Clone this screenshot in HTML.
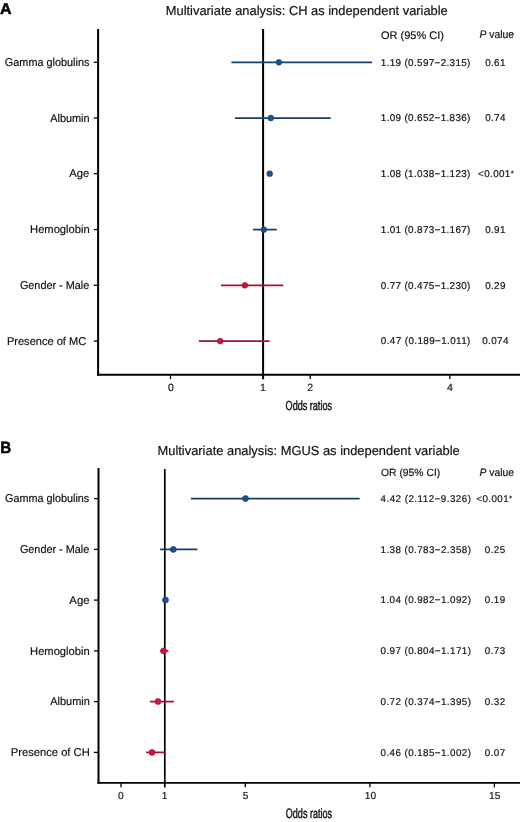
<!DOCTYPE html>
<html><head><meta charset="utf-8"><style>
html,body{margin:0;padding:0;background:#fff;}
body{width:520px;height:822px;overflow:hidden;}
svg{display:block;font-family:"Liberation Sans", sans-serif;text-rendering:geometricPrecision;will-change:transform;}
</style></head><body>
<svg width="520" height="822" viewBox="0 0 520 822">
<rect width="520" height="822" fill="#fff"/>
<text x="0.0" y="13.7" font-size="15.6" text-anchor="start" font-weight="bold" textLength="11.6" lengthAdjust="spacingAndGlyphs" stroke="#000" stroke-width="0.45" fill="#000">A</text>
<text x="165.8" y="15.2" font-size="13" text-anchor="start" textLength="282" lengthAdjust="spacingAndGlyphs" stroke="#111" stroke-width="0.18" fill="#111">Multivariate analysis: CH as independent variable</text>
<text x="381" y="38.8" font-size="11" text-anchor="start" textLength="63" lengthAdjust="spacingAndGlyphs" stroke="#111" stroke-width="0.18" fill="#111">OR (95% CI)</text>
<text x="479.5" y="38.4" font-size="11" fill="#111" stroke="#111" stroke-width="0.18" textLength="34.6" lengthAdjust="spacingAndGlyphs"><tspan font-style="italic">P</tspan> value</text>
<line x1="98.1" y1="29.0" x2="98.1" y2="375.8" stroke="#000" stroke-width="2" stroke-linecap="butt"/>
<line x1="97.1" y1="374.8" x2="520" y2="374.8" stroke="#000" stroke-width="2" stroke-linecap="butt"/>
<line x1="263.1" y1="29.0" x2="263.1" y2="379.3" stroke="#000" stroke-width="2" stroke-linecap="butt"/>
<line x1="170.5" y1="374.8" x2="170.5" y2="379.1" stroke="#000" stroke-width="1.3" stroke-linecap="butt"/>
<line x1="310.2" y1="374.8" x2="310.2" y2="379.1" stroke="#000" stroke-width="1.3" stroke-linecap="butt"/>
<line x1="449.9" y1="374.8" x2="449.9" y2="379.1" stroke="#000" stroke-width="1.3" stroke-linecap="butt"/>
<text x="170.8" y="391.3" font-size="10.5" text-anchor="middle" stroke="#111" stroke-width="0.18" fill="#111">0</text>
<text x="263.0" y="391.3" font-size="10.5" text-anchor="middle" stroke="#111" stroke-width="0.18" fill="#111">1</text>
<text x="310.2" y="391.3" font-size="10.5" text-anchor="middle" stroke="#111" stroke-width="0.18" fill="#111">2</text>
<text x="449.8" y="391.3" font-size="10.5" text-anchor="middle" stroke="#111" stroke-width="0.18" fill="#111">4</text>
<text x="285.6" y="410" font-size="13.1" text-anchor="start" textLength="46.4" lengthAdjust="spacingAndGlyphs" stroke="#111" stroke-width="0.45" fill="#111">Odds ratios</text>
<line x1="93.8" y1="62.3" x2="98.1" y2="62.3" stroke="#000" stroke-width="1.3" stroke-linecap="butt"/>
<text id="LA0" x="4.87" y="66.00" font-size="11.3" textLength="84.49" lengthAdjust="spacingAndGlyphs" stroke="#111" stroke-width="0.18" fill="#111">Gamma globulins</text>
<line x1="231.4" y1="62.3" x2="372.0" y2="62.3" stroke="#163f6a" stroke-width="1.75" stroke-linecap="butt"/>
<circle cx="278.9" cy="62.3" r="2.9" fill="#1b5189" stroke="#163f6a" stroke-width="0.6"/>
<text x="380.8" y="65.6" font-size="9.9" text-anchor="start" textLength="89.6" lengthAdjust="spacing" stroke="#111" stroke-width="0.18" fill="#111">1.19 (0.597−2.315)</text>
<text x="495.5" y="65.6" font-size="9.9" text-anchor="middle" letter-spacing="0.35" stroke="#111" stroke-width="0.18" fill="#111">0.61</text>
<line x1="93.8" y1="118.0" x2="98.1" y2="118.0" stroke="#000" stroke-width="1.3" stroke-linecap="butt"/>
<text id="LA1" x="50.21" y="121.70" font-size="11.3" textLength="39.39" lengthAdjust="spacingAndGlyphs" stroke="#111" stroke-width="0.18" fill="#111">Albumin</text>
<line x1="234.9" y1="118.0" x2="330.8" y2="118.0" stroke="#163f6a" stroke-width="1.75" stroke-linecap="butt"/>
<circle cx="270.8" cy="118.0" r="2.9" fill="#1b5189" stroke="#163f6a" stroke-width="0.6"/>
<text x="380.8" y="121.3" font-size="9.9" text-anchor="start" textLength="89.6" lengthAdjust="spacing" stroke="#111" stroke-width="0.18" fill="#111">1.09 (0.652−1.836)</text>
<text x="495.5" y="121.3" font-size="9.9" text-anchor="middle" letter-spacing="0.35" stroke="#111" stroke-width="0.18" fill="#111">0.74</text>
<line x1="93.8" y1="173.7" x2="98.1" y2="173.7" stroke="#000" stroke-width="1.3" stroke-linecap="butt"/>
<text id="LA2" x="69.30" y="177.40" font-size="11.3" textLength="19.93" lengthAdjust="spacingAndGlyphs" stroke="#111" stroke-width="0.18" fill="#111">Age</text>
<circle cx="269.7" cy="173.7" r="2.9" fill="#1b5189" stroke="#163f6a" stroke-width="0.6"/>
<text x="380.8" y="177.0" font-size="9.9" text-anchor="start" textLength="89.6" lengthAdjust="spacing" stroke="#111" stroke-width="0.18" fill="#111">1.08 (1.038−1.123)</text>
<text x="478.1" y="177.0" font-size="9.9" text-anchor="start" letter-spacing="0.35" stroke="#111" stroke-width="0.18" fill="#111">&lt;0.001<tspan font-size="7.5" dy="-0.6">*</tspan></text>
<line x1="93.8" y1="229.6" x2="98.1" y2="229.6" stroke="#000" stroke-width="1.3" stroke-linecap="butt"/>
<text id="LA3" x="30.09" y="233.30" font-size="11.3" textLength="59.57" lengthAdjust="spacingAndGlyphs" stroke="#111" stroke-width="0.18" fill="#111">Hemoglobin</text>
<line x1="252.9" y1="229.6" x2="276.8" y2="229.6" stroke="#163f6a" stroke-width="1.75" stroke-linecap="butt"/>
<circle cx="263.8" cy="229.6" r="2.9" fill="#1b5189" stroke="#163f6a" stroke-width="0.6"/>
<text x="380.8" y="232.9" font-size="9.9" text-anchor="start" textLength="89.6" lengthAdjust="spacing" stroke="#111" stroke-width="0.18" fill="#111">1.01 (0.873−1.167)</text>
<text x="495.5" y="232.9" font-size="9.9" text-anchor="middle" letter-spacing="0.35" stroke="#111" stroke-width="0.18" fill="#111">0.91</text>
<line x1="93.8" y1="285.3" x2="98.1" y2="285.3" stroke="#000" stroke-width="1.3" stroke-linecap="butt"/>
<text id="LA4" x="19.88" y="289.00" font-size="11.3" textLength="69.44" lengthAdjust="spacingAndGlyphs" stroke="#111" stroke-width="0.18" fill="#111">Gender - Male</text>
<line x1="221.0" y1="285.3" x2="283.3" y2="285.3" stroke="#a51035" stroke-width="1.75" stroke-linecap="butt"/>
<circle cx="244.9" cy="285.3" r="2.9" fill="#c8143c" stroke="#a51035" stroke-width="0.6"/>
<text x="380.8" y="288.6" font-size="9.9" text-anchor="start" textLength="89.6" lengthAdjust="spacing" stroke="#111" stroke-width="0.18" fill="#111">0.77 (0.475−1.230)</text>
<text x="495.5" y="288.6" font-size="9.9" text-anchor="middle" letter-spacing="0.35" stroke="#111" stroke-width="0.18" fill="#111">0.29</text>
<line x1="93.8" y1="341.1" x2="98.1" y2="341.1" stroke="#000" stroke-width="1.3" stroke-linecap="butt"/>
<text id="LA5" x="6.90" y="344.80" font-size="11.3" textLength="79.32" lengthAdjust="spacingAndGlyphs" stroke="#111" stroke-width="0.18" fill="#111">Presence of MC</text>
<line x1="198.9" y1="341.1" x2="269.6" y2="341.1" stroke="#a51035" stroke-width="1.75" stroke-linecap="butt"/>
<circle cx="220.2" cy="341.1" r="2.9" fill="#c8143c" stroke="#a51035" stroke-width="0.6"/>
<text x="380.8" y="344.40000000000003" font-size="9.9" text-anchor="start" textLength="89.6" lengthAdjust="spacing" stroke="#111" stroke-width="0.18" fill="#111">0.47 (0.189−1.011)</text>
<text x="495.5" y="344.40000000000003" font-size="9.9" text-anchor="middle" letter-spacing="0.35" stroke="#111" stroke-width="0.18" fill="#111">0.074</text>
<text x="0.3" y="452.9" font-size="16.4" text-anchor="start" font-weight="bold" textLength="11.0" lengthAdjust="spacingAndGlyphs" stroke="#000" stroke-width="0.45" fill="#000">B</text>
<text x="157.5" y="454.5" font-size="13" text-anchor="start" textLength="302.3" lengthAdjust="spacingAndGlyphs" stroke="#111" stroke-width="0.18" fill="#111">Multivariate analysis: MGUS as independent variable</text>
<text x="381" y="476.1" font-size="10.4" text-anchor="start" textLength="59.2" lengthAdjust="spacingAndGlyphs" stroke="#111" stroke-width="0.18" fill="#111">OR (95% CI)</text>
<text x="479.5" y="475.6" font-size="10.8" fill="#111" stroke="#111" stroke-width="0.18" textLength="34.6" lengthAdjust="spacingAndGlyphs"><tspan font-style="italic">P</tspan> value</text>
<line x1="98.5" y1="468.0" x2="98.5" y2="783.85" stroke="#000" stroke-width="2" stroke-linecap="butt"/>
<line x1="97.5" y1="782.95" x2="520" y2="782.95" stroke="#000" stroke-width="1.8" stroke-linecap="butt"/>
<line x1="164.8" y1="469.0" x2="164.8" y2="787.5500000000001" stroke="#000" stroke-width="1.7" stroke-linecap="butt"/>
<line x1="121.0" y1="782.85" x2="121.0" y2="787.35" stroke="#000" stroke-width="1.3" stroke-linecap="butt"/>
<line x1="245.3" y1="782.85" x2="245.3" y2="787.35" stroke="#000" stroke-width="1.3" stroke-linecap="butt"/>
<line x1="369.9" y1="782.85" x2="369.9" y2="787.35" stroke="#000" stroke-width="1.3" stroke-linecap="butt"/>
<line x1="494.4" y1="782.85" x2="494.4" y2="787.35" stroke="#000" stroke-width="1.3" stroke-linecap="butt"/>
<text x="120.8" y="799.4" font-size="10.2" text-anchor="middle" stroke="#111" stroke-width="0.18" fill="#111">0</text>
<text x="164.7" y="799.4" font-size="10.2" text-anchor="middle" stroke="#111" stroke-width="0.18" fill="#111">1</text>
<text x="245.5" y="799.4" font-size="10.2" text-anchor="middle" stroke="#111" stroke-width="0.18" fill="#111">5</text>
<text x="370.4" y="799.4" font-size="10.2" text-anchor="middle" stroke="#111" stroke-width="0.18" fill="#111">10</text>
<text x="494.7" y="799.4" font-size="10.2" text-anchor="middle" stroke="#111" stroke-width="0.18" fill="#111">15</text>
<text x="285.8" y="818.4" font-size="13.5" text-anchor="start" textLength="46.2" lengthAdjust="spacingAndGlyphs" stroke="#111" stroke-width="0.45" fill="#111">Odds ratios</text>
<line x1="94.0" y1="498.6" x2="98.5" y2="498.6" stroke="#000" stroke-width="1.3" stroke-linecap="butt"/>
<text id="LB0" x="5.12" y="502.30" font-size="11.3" textLength="84.17" lengthAdjust="spacingAndGlyphs" stroke="#111" stroke-width="0.18" fill="#111">Gamma globulins</text>
<line x1="191.0" y1="498.6" x2="359.7" y2="498.6" stroke="#163f6a" stroke-width="1.75" stroke-linecap="butt"/>
<circle cx="245.5" cy="498.6" r="3.0" fill="#1b5189" stroke="#163f6a" stroke-width="0.6"/>
<text x="380.6" y="501.85" font-size="9.8" text-anchor="start" textLength="90.3" lengthAdjust="spacing" stroke="#111" stroke-width="0.18" fill="#111">4.42 (2.112−9.326)</text>
<text x="476.4" y="501.85" font-size="9.8" text-anchor="start" letter-spacing="0.4" stroke="#111" stroke-width="0.18" fill="#111">&lt;0.001<tspan font-size="7.5" dy="-0.6">*</tspan></text>
<line x1="94.0" y1="549.4" x2="98.5" y2="549.4" stroke="#000" stroke-width="1.3" stroke-linecap="butt"/>
<text id="LB1" x="19.88" y="553.10" font-size="11.3" textLength="69.44" lengthAdjust="spacingAndGlyphs" stroke="#111" stroke-width="0.18" fill="#111">Gender - Male</text>
<line x1="160.1" y1="549.4" x2="197.4" y2="549.4" stroke="#163f6a" stroke-width="1.75" stroke-linecap="butt"/>
<circle cx="173.3" cy="549.4" r="3.0" fill="#1b5189" stroke="#163f6a" stroke-width="0.6"/>
<text x="380.6" y="552.65" font-size="9.8" text-anchor="start" textLength="90.3" lengthAdjust="spacing" stroke="#111" stroke-width="0.18" fill="#111">1.38 (0.783−2.358)</text>
<text x="495.2" y="552.65" font-size="9.8" text-anchor="middle" letter-spacing="0.4" stroke="#111" stroke-width="0.18" fill="#111">0.25</text>
<line x1="94.0" y1="600.1" x2="98.5" y2="600.1" stroke="#000" stroke-width="1.3" stroke-linecap="butt"/>
<text id="LB2" x="69.35" y="603.80" font-size="11.3" textLength="20.23" lengthAdjust="spacingAndGlyphs" stroke="#111" stroke-width="0.18" fill="#111">Age</text>
<circle cx="165.5" cy="600.1" r="3.0" fill="#1b5189" stroke="#163f6a" stroke-width="0.6"/>
<text x="380.6" y="603.35" font-size="9.8" text-anchor="start" textLength="90.3" lengthAdjust="spacing" stroke="#111" stroke-width="0.18" fill="#111">1.04 (0.982−1.092)</text>
<text x="495.2" y="603.35" font-size="9.8" text-anchor="middle" letter-spacing="0.4" stroke="#111" stroke-width="0.18" fill="#111">0.19</text>
<line x1="94.0" y1="650.9" x2="98.5" y2="650.9" stroke="#000" stroke-width="1.3" stroke-linecap="butt"/>
<text id="LB3" x="30.09" y="654.60" font-size="11.3" textLength="59.57" lengthAdjust="spacingAndGlyphs" stroke="#111" stroke-width="0.18" fill="#111">Hemoglobin</text>
<line x1="160.0" y1="650.9" x2="168.4" y2="650.9" stroke="#a51035" stroke-width="1.75" stroke-linecap="butt"/>
<circle cx="163.6" cy="650.9" r="3.0" fill="#c8143c" stroke="#a51035" stroke-width="0.6"/>
<text x="380.6" y="654.15" font-size="9.8" text-anchor="start" textLength="90.3" lengthAdjust="spacing" stroke="#111" stroke-width="0.18" fill="#111">0.97 (0.804−1.171)</text>
<text x="495.2" y="654.15" font-size="9.8" text-anchor="middle" letter-spacing="0.4" stroke="#111" stroke-width="0.18" fill="#111">0.73</text>
<line x1="94.0" y1="701.6" x2="98.5" y2="701.6" stroke="#000" stroke-width="1.3" stroke-linecap="butt"/>
<text id="LB4" x="50.33" y="705.30" font-size="11.3" textLength="39.44" lengthAdjust="spacingAndGlyphs" stroke="#111" stroke-width="0.18" fill="#111">Albumin</text>
<line x1="149.9" y1="701.6" x2="173.9" y2="701.6" stroke="#a51035" stroke-width="1.75" stroke-linecap="butt"/>
<circle cx="158.0" cy="701.6" r="3.0" fill="#c8143c" stroke="#a51035" stroke-width="0.6"/>
<text x="380.6" y="704.85" font-size="9.8" text-anchor="start" textLength="90.3" lengthAdjust="spacing" stroke="#111" stroke-width="0.18" fill="#111">0.72 (0.374−1.395)</text>
<text x="495.2" y="704.85" font-size="9.8" text-anchor="middle" letter-spacing="0.4" stroke="#111" stroke-width="0.18" fill="#111">0.32</text>
<line x1="94.0" y1="752.4" x2="98.5" y2="752.4" stroke="#000" stroke-width="1.3" stroke-linecap="butt"/>
<text id="LB5" x="10.72" y="756.10" font-size="11.3" textLength="79.05" lengthAdjust="spacingAndGlyphs" stroke="#111" stroke-width="0.18" fill="#111">Presence of CH</text>
<line x1="146.1" y1="752.4" x2="166.0" y2="752.4" stroke="#a51035" stroke-width="1.75" stroke-linecap="butt"/>
<circle cx="152.0" cy="752.4" r="3.0" fill="#c8143c" stroke="#a51035" stroke-width="0.6"/>
<text x="380.6" y="755.65" font-size="9.8" text-anchor="start" textLength="90.3" lengthAdjust="spacing" stroke="#111" stroke-width="0.18" fill="#111">0.46 (0.185−1.002)</text>
<text x="495.2" y="755.65" font-size="9.8" text-anchor="middle" letter-spacing="0.4" stroke="#111" stroke-width="0.18" fill="#111">0.07</text>
</svg>
</body></html>
